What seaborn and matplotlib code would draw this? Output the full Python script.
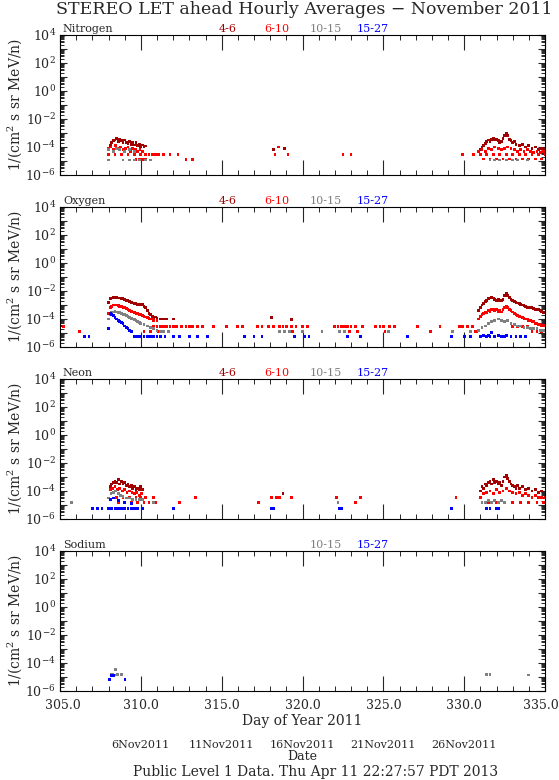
import numpy as np
import pandas as pd
import matplotlib
matplotlib.use("Agg")
import matplotlib.pyplot as plt
import matplotlib.ticker as mticker
import matplotlib.transforms as mtransforms
import seaborn as sns

# -------------------------
# Data
# -------------------------
CHANNELS = ["4-6", "6-10", "10-15", "15-27"]
COLORS = ["#a00000", "#ff0000", "#808080", "#0000ff"]
ELEMENTS = ["Nitrogen", "Oxygen", "Neon", "Sodium"]
PANEL_LABELS = {
    "Nitrogen": ["4-6", "6-10", "10-15", "15-27"],
    "Oxygen": ["4-6", "6-10", "10-15", "15-27"],
    "Neon": ["4-6", "6-10", "10-15", "15-27"],
    "Sodium": ["10-15", "15-27"],
}
DAY_TICKS = [305, 310, 315, 320, 325, 330, 335]
DATE_TICKS = [310, 315, 320, 325, 330]
DATE_LABELS = ["6Nov2011", "11Nov2011", "16Nov2011", "21Nov2011", "26Nov2011"]

# Nitrogen
N46_DAY = [308.1, 308.2, 308.3, 308.4, 308.5, 308.6, 308.7, 308.8, 308.9, 309.0,
           309.1, 309.2, 309.3, 309.4, 309.5, 309.6, 309.7, 309.8, 309.9, 310.0,
           310.1, 310.2, 310.3, 318.2, 318.9,
           331.0, 331.1, 331.2, 331.3, 331.4, 331.5, 331.6, 331.7, 331.8, 331.9,
           332.0, 332.1, 332.2, 332.3, 332.4, 332.5, 332.6, 332.7, 332.8, 332.9,
           333.0, 333.1, 333.2, 333.4, 333.6, 333.8, 334.0, 334.2, 334.4, 334.6,
           334.8, 335.0]
N46_VAL = [1.3e-4, 2.0e-4, 2.8e-4, 3.2e-4, 4.0e-4, 2.5e-4, 3.5e-4, 2.8e-4, 2.0e-4, 3.2e-4,
           2.2e-4, 1.8e-4, 2.5e-4, 1.6e-4, 2.2e-4, 1.4e-4, 2.0e-4, 1.3e-4, 1.6e-4, 1.1e-4,
           1.4e-4, 1.0e-4, 1.2e-4, 6.3e-5, 8.0e-5,
           6.3e-5, 1.0e-4, 1.3e-4, 1.8e-4, 2.5e-4, 3.2e-4, 2.5e-4, 3.5e-4, 4.0e-4, 3.2e-4,
           3.5e-4, 2.8e-4, 2.2e-4, 2.5e-4, 4.0e-4, 6.3e-4, 1.0e-3, 6.3e-4, 3.5e-4, 2.8e-4,
           2.0e-4, 2.5e-4, 1.6e-4, 1.3e-4, 1.6e-4, 1.0e-4, 1.3e-4, 8.0e-5, 1.0e-4, 6.3e-5,
           8.0e-5, 6.3e-5]
N610_DAY = [308.0, 308.15, 308.3, 308.45, 308.6, 308.75, 308.9, 309.05, 309.2, 309.35,
            309.5, 309.65, 309.8, 309.95, 310.1,
            308.0, 308.4, 308.8, 309.2, 309.6, 310.0, 310.3, 310.5, 310.7, 310.9,
            311.1, 311.4, 311.8, 312.3, 309.7, 309.9, 310.1, 310.3, 312.8, 313.2,
            318.3, 318.5, 319.1, 322.5, 323.0, 329.9, 330.6,
            330.9, 331.1, 331.3, 331.5, 331.7, 331.9, 332.1, 332.3, 332.5, 332.7,
            332.9, 333.1, 333.3, 333.5, 333.7, 333.9, 334.1, 334.3, 334.5, 334.7, 334.9,
            331.0, 331.4, 331.8, 332.2, 332.6, 333.0, 333.4, 333.8, 334.2, 334.6, 335.0,
            331.2, 331.6, 332.0, 332.4, 332.8, 333.2, 333.6, 334.0, 334.4, 334.8]
N610_VAL = [8.0e-5, 1.0e-4, 6.3e-5, 1.3e-4, 8.0e-5, 1.0e-4, 6.3e-5, 8.0e-5, 1.0e-4, 5.0e-5,
            8.0e-5, 6.3e-5, 5.0e-5, 6.3e-5, 5.0e-5,
            3.0e-5, 3.0e-5, 3.0e-5, 3.0e-5, 3.0e-5, 3.0e-5, 3.0e-5, 3.0e-5, 3.0e-5, 3.0e-5,
            3.0e-5, 3.0e-5, 3.0e-5, 3.0e-5, 1.3e-5, 1.3e-5, 1.3e-5, 1.3e-5, 1.3e-5, 1.3e-5,
            3.0e-5, 1.0e-4, 3.0e-5, 3.0e-5, 3.0e-5, 3.0e-5, 3.0e-5,
            5.0e-5, 6.3e-5, 5.0e-5, 8.0e-5, 6.3e-5, 1.0e-4, 8.0e-5, 6.3e-5, 8.0e-5, 1.0e-4,
            8.0e-5, 6.3e-5, 5.0e-5, 6.3e-5, 5.0e-5, 6.3e-5, 5.0e-5, 4.0e-5, 5.0e-5, 4.0e-5, 5.0e-5,
            3.0e-5, 3.0e-5, 3.0e-5, 3.0e-5, 3.0e-5, 3.0e-5, 3.0e-5, 3.0e-5, 3.0e-5, 3.0e-5, 3.0e-5,
            1.4e-5, 1.4e-5, 1.4e-5, 1.4e-5, 1.4e-5, 1.4e-5, 1.4e-5, 1.4e-5, 1.4e-5, 1.4e-5]
N1015_DAY = [308.0, 308.3, 308.5, 308.7, 309.0, 309.3, 309.6, 308.0, 308.9, 309.3,
             309.6, 309.9, 310.3, 310.6, 331.6, 331.9, 332.2, 332.6, 333.0, 333.3, 333.9]
N1015_VAL = [6.3e-5, 5.0e-5, 8.0e-5, 6.3e-5, 5.0e-5, 6.3e-5, 5.0e-5, 1.2e-5, 1.2e-5, 1.2e-5,
             1.2e-5, 1.2e-5, 1.2e-5, 1.2e-5, 1.2e-5, 1.2e-5, 1.2e-5, 1.2e-5, 1.2e-5, 1.2e-5, 1.2e-5]
N1527_DAY = []
N1527_VAL = []

# Oxygen
O46_DAY = [308.0, 308.1, 308.2, 308.3, 308.4, 308.5, 308.6, 308.7, 308.8, 308.9,
           309.0, 309.1, 309.2, 309.3, 309.4, 309.5, 309.6, 309.7, 309.8, 309.9,
           310.0, 310.1, 310.2, 310.3, 310.4, 310.5, 310.6, 310.7, 310.8, 310.9,
           311.0, 311.2, 311.4, 311.6, 312.0, 318.1, 319.3,
           330.9, 331.0, 331.1, 331.2, 331.3, 331.4, 331.5, 331.6, 331.7, 331.8,
           331.9, 332.0, 332.1, 332.2, 332.3, 332.4, 332.5, 332.6, 332.7, 332.8,
           332.9, 333.0, 333.1, 333.2, 333.3, 333.4, 333.5, 333.6, 333.7, 333.8,
           333.9, 334.0, 334.1, 334.2, 334.3, 334.4, 334.5, 334.6, 334.7, 334.8, 334.9]
O46_VAL = [1.6e-3, 2.8e-3, 3.2e-3, 3.5e-3, 3.5e-3, 3.5e-3, 3.2e-3, 3.2e-3, 2.8e-3, 2.8e-3,
           2.5e-3, 2.2e-3, 2.0e-3, 1.8e-3, 1.6e-3, 1.4e-3, 1.3e-3, 1.3e-3, 1.1e-3, 1.2e-3,
           1.0e-3, 1.1e-3, 8.0e-4, 7.0e-4, 4.0e-4, 2.5e-4, 2.0e-4, 1.6e-4, 1.3e-4, 1.4e-4,
           1.1e-4, 1.0e-4, 1.0e-4, 1.0e-4, 1.0e-4, 1.3e-4, 9.0e-5,
           4.0e-4, 6.3e-4, 1.0e-3, 1.3e-3, 1.8e-3, 2.2e-3, 2.8e-3, 3.2e-3, 3.5e-3, 3.2e-3,
           2.5e-3, 2.2e-3, 2.5e-3, 2.2e-3, 2.0e-3, 2.5e-3, 5.0e-3, 6.3e-3, 4.5e-3, 3.5e-3,
           2.5e-3, 2.0e-3, 1.8e-3, 1.6e-3, 1.4e-3, 1.3e-3, 1.1e-3, 1.0e-3, 9.0e-4, 8.0e-4,
           7.0e-4, 7.0e-4, 6.3e-4, 6.3e-4, 5.5e-4, 5.0e-4, 5.0e-4, 4.5e-4, 4.0e-4, 3.5e-4, 3.0e-4]
O610_DAY = [308.0, 308.1, 308.2, 308.3, 308.4, 308.5, 308.6, 308.7, 308.8, 308.9,
            309.0, 309.1, 309.2, 309.3, 309.4, 309.5, 309.6, 309.7, 309.8, 309.9,
            310.0, 310.1, 310.2, 310.3, 310.4, 310.5, 310.6, 310.7, 310.8, 311.0,
            305.2, 310.8, 311.0, 311.2, 311.4, 311.6, 311.8, 312.0, 312.2, 312.5,
            312.8, 313.0, 313.2, 313.5, 313.8, 314.5, 315.3, 316.0, 316.3, 317.2,
            317.5, 317.9, 318.2, 318.6, 318.8, 319.0, 319.3, 319.6, 320.0, 320.3,
            322.0, 322.2, 322.4, 322.6, 322.8, 323.0, 323.3, 323.7, 324.5, 324.8,
            325.0, 325.4, 325.7, 327.1, 328.5, 329.7, 329.9, 330.2, 330.5,
            306.2, 310.2, 310.6, 311.1, 319.2, 319.4, 322.3, 322.9, 323.4, 325.1,
            327.9, 329.3, 330.7, 330.8,
            330.9, 331.0, 331.1, 331.2, 331.3, 331.4, 331.5, 331.6, 331.7, 331.8,
            331.9, 332.0, 332.1, 332.2, 332.3, 332.4, 332.5, 332.6, 332.7, 332.8,
            332.9, 333.0, 333.1, 333.2, 333.3, 333.4, 333.5, 333.6, 333.7, 333.8,
            333.9, 334.0, 334.1, 334.2, 334.3, 334.4, 334.5, 334.6, 334.7, 334.8, 334.9,
            333.0, 333.3, 333.6, 333.9, 334.2, 334.5, 334.8]
O610_VAL = [2.5e-4, 6.3e-4, 8.0e-4, 1.0e-3, 1.0e-3, 1.0e-3, 9.0e-4, 8.0e-4, 8.0e-4, 7.0e-4,
            6.3e-4, 5.5e-4, 5.0e-4, 4.0e-4, 3.5e-4, 3.2e-4, 2.8e-4, 2.5e-4, 2.5e-4, 2.2e-4,
            2.0e-4, 1.8e-4, 1.6e-4, 1.4e-4, 1.3e-4, 1.1e-4, 1.0e-4, 1.0e-4, 8.0e-5, 8.0e-5,
            2.8e-5, 2.8e-5, 2.8e-5, 2.8e-5, 2.8e-5, 2.8e-5, 2.8e-5, 2.8e-5, 2.8e-5, 2.8e-5,
            2.8e-5, 2.8e-5, 2.8e-5, 2.8e-5, 2.8e-5, 2.8e-5, 2.8e-5, 2.8e-5, 2.8e-5, 2.8e-5,
            2.8e-5, 2.8e-5, 2.8e-5, 2.8e-5, 2.8e-5, 2.8e-5, 2.8e-5, 2.8e-5, 2.8e-5, 2.8e-5,
            2.8e-5, 2.8e-5, 2.8e-5, 2.8e-5, 2.8e-5, 2.8e-5, 2.8e-5, 2.8e-5, 2.8e-5, 2.8e-5,
            2.8e-5, 2.8e-5, 2.8e-5, 2.8e-5, 2.8e-5, 2.8e-5, 2.8e-5, 2.8e-5, 2.8e-5,
            1.3e-5, 1.3e-5, 1.3e-5, 1.3e-5, 1.3e-5, 1.3e-5, 1.3e-5, 1.3e-5, 1.3e-5, 1.3e-5,
            1.3e-5, 1.3e-5, 1.3e-5, 1.3e-5,
            1.0e-4, 1.6e-4, 2.0e-4, 2.5e-4, 3.2e-4, 2.8e-4, 4.0e-4, 3.5e-4, 4.5e-4, 5.0e-4,
            4.0e-4, 4.5e-4, 3.5e-4, 4.0e-4, 3.2e-4, 5.0e-4, 6.3e-4, 8.0e-4, 6.3e-4, 5.0e-4,
            4.0e-4, 3.2e-4, 2.5e-4, 2.2e-4, 1.8e-4, 1.6e-4, 1.4e-4, 1.3e-4, 1.1e-4, 1.0e-4,
            1.0e-4, 8.0e-5, 8.0e-5, 6.3e-5, 6.3e-5, 5.0e-5, 5.0e-5, 4.0e-5, 4.0e-5, 3.5e-5, 3.5e-5,
            2.8e-5, 2.8e-5, 2.8e-5, 2.8e-5, 1.3e-5, 1.3e-5, 1.3e-5]
O1015_DAY = [308.0, 308.1, 308.2, 308.3, 308.4, 308.5, 308.6, 308.7, 308.8, 308.9,
             309.0, 309.1, 309.2, 309.3, 309.4, 309.5, 309.6, 309.7, 309.8, 309.9,
             310.0, 310.2, 310.4, 310.6, 310.8, 311.0, 311.2, 311.4, 311.7,
             318.6, 318.9, 319.2, 320.0, 321.2, 322.3, 322.6, 325.3, 329.3, 330.4,
             330.9, 331.1, 331.3, 331.5, 331.7, 331.9, 332.1, 332.3, 332.5, 332.7,
             332.9, 333.1, 333.3, 333.5, 333.7, 333.9, 334.1, 334.3, 334.5, 334.7, 334.9]
O1015_VAL = [1.0e-4, 2.0e-4, 2.8e-4, 3.2e-4, 3.5e-4, 3.2e-4, 2.8e-4, 2.8e-4, 2.5e-4, 2.2e-4,
             2.0e-4, 1.8e-4, 1.6e-4, 1.3e-4, 1.1e-4, 1.0e-4, 9.0e-5, 8.0e-5, 6.3e-5, 5.5e-5,
             5.0e-5, 4.0e-5, 3.2e-5, 2.5e-5, 2.0e-5, 1.6e-5, 1.3e-5, 1.3e-5, 1.3e-5,
             1.3e-5, 1.3e-5, 1.3e-5, 1.3e-5, 1.3e-5, 1.3e-5, 1.3e-5, 1.3e-5, 1.3e-5, 1.3e-5,
             1.6e-5, 2.5e-5, 3.2e-5, 5.0e-5, 6.3e-5, 8.0e-5, 1.0e-4, 8.0e-5, 6.3e-5, 8.0e-5,
             5.0e-5, 4.0e-5, 3.2e-5, 3.2e-5, 2.5e-5, 2.5e-5, 2.0e-5, 2.0e-5, 2.0e-5, 1.6e-5, 1.6e-5]
O1527_DAY = [306.5, 306.8, 308.0, 308.1, 308.2, 308.3, 308.4, 308.5, 308.6, 308.7,
             308.8, 308.9, 309.0, 309.1, 309.2, 309.3, 309.4,
             309.6, 309.8, 310.0, 310.2, 310.4, 310.6, 310.8, 311.0, 311.2, 311.5,
             312.0, 312.4, 313.0, 313.5, 314.1, 316.4, 317.0, 317.5, 319.5, 320.1,
             320.4, 322.8, 323.6, 326.5, 329.2, 330.0, 330.4,
             331.0, 331.2, 331.4, 331.5, 331.6, 331.7, 331.9, 332.1, 332.3, 332.5,
             332.6, 332.9, 333.2, 333.5, 333.8]
O1527_VAL = [5.5e-6, 5.5e-6, 2.0e-5, 2.5e-4, 2.2e-4, 1.8e-4, 1.3e-4, 1.0e-4, 8.0e-5, 6.3e-5,
             5.5e-5, 5.0e-5, 3.2e-5, 2.5e-5, 2.0e-5, 1.6e-5, 1.3e-5,
             5.5e-6, 5.5e-6, 5.5e-6, 5.5e-6, 5.5e-6, 5.5e-6, 5.5e-6, 5.5e-6, 5.5e-6, 5.5e-6,
             5.5e-6, 5.5e-6, 5.5e-6, 5.5e-6, 5.5e-6, 5.5e-6, 5.5e-6, 5.5e-6, 5.5e-6, 5.5e-6,
             5.5e-6, 5.5e-6, 5.5e-6, 5.5e-6, 5.5e-6, 5.5e-6, 5.5e-6,
             5.5e-6, 7.0e-6, 5.5e-6, 7.0e-6, 5.5e-6, 1.1e-5, 5.5e-6, 7.0e-6, 5.5e-6, 5.5e-6,
             7.0e-6, 5.5e-6, 5.5e-6, 5.5e-6, 5.5e-6]

# Neon
NE46_DAY = [308.1, 308.2, 308.3, 308.4, 308.5, 308.6, 308.7, 308.8, 308.9, 309.0,
            309.1, 309.2, 309.3, 309.4, 309.5, 309.6, 309.7, 309.8, 309.9, 310.0,
            310.1, 318.8,
            331.0, 331.1, 331.2, 331.3, 331.4, 331.5, 331.6, 331.7, 331.8, 331.9,
            332.0, 332.1, 332.2, 332.3, 332.4, 332.5, 332.6, 332.7, 332.8, 332.9,
            333.0, 333.1, 333.2, 333.3, 333.4, 333.6, 333.8, 334.0, 334.2, 334.4,
            334.6, 334.8]
NE46_VAL = [2.0e-4, 3.2e-4, 4.0e-4, 5.0e-4, 4.0e-4, 6.3e-4, 3.2e-4, 5.0e-4, 3.2e-4, 4.0e-4,
            2.5e-4, 3.2e-4, 2.0e-4, 2.5e-4, 1.6e-4, 2.0e-4, 1.3e-4, 1.6e-4, 1.3e-4, 2.0e-4,
            1.3e-4, 6.3e-5,
            1.0e-4, 2.0e-4, 1.6e-4, 3.2e-4, 2.5e-4, 4.0e-4, 5.0e-4, 3.2e-4, 6.3e-4, 4.0e-4,
            5.0e-4, 3.2e-4, 4.0e-4, 2.5e-4, 5.0e-4, 1.0e-3, 1.3e-3, 8.0e-4, 5.0e-4, 3.2e-4,
            2.5e-4, 2.0e-4, 1.6e-4, 2.5e-4, 1.6e-4, 2.0e-4, 1.3e-4, 1.6e-4, 1.0e-4, 1.3e-4,
            8.0e-5, 1.0e-4]
NE610_DAY = [308.1, 308.25, 308.4, 308.55, 308.7, 308.85, 309.0, 309.15, 309.3, 309.45,
             309.6, 309.75, 309.9, 310.05,
             308.5, 308.9, 309.3, 309.7, 310.0, 310.3, 310.8, 313.4, 318.1, 318.4,
             318.6, 319.3, 322.1, 323.6, 329.5,
             308.6, 309.0, 309.4, 309.8, 310.2, 310.5, 310.9, 312.4, 317.3, 323.3,
             331.0, 331.2, 331.4, 331.6, 331.8, 332.0, 332.2, 332.4, 332.6, 332.8,
             333.0, 333.2, 333.4, 333.6, 333.8, 334.0, 334.2, 334.4, 334.6, 334.8, 335.0,
             331.5, 332.0, 332.5, 333.0, 333.5, 334.0, 334.5, 334.9]
NE610_VAL = [1.3e-4, 1.6e-4, 2.0e-4, 1.3e-4, 1.6e-4, 1.0e-4, 1.3e-4, 8.0e-5, 1.0e-4, 8.0e-5,
             6.3e-5, 8.0e-5, 5.0e-5, 6.3e-5,
             3.3e-5, 3.3e-5, 3.3e-5, 3.3e-5, 3.3e-5, 3.3e-5, 3.3e-5, 3.3e-5, 3.3e-5, 3.3e-5,
             3.3e-5, 3.3e-5, 3.3e-5, 3.3e-5, 3.3e-5,
             1.6e-5, 1.6e-5, 1.6e-5, 1.6e-5, 1.6e-5, 1.6e-5, 1.6e-5, 1.6e-5, 1.6e-5, 1.6e-5,
             3.3e-5, 6.3e-5, 8.0e-5, 1.0e-4, 6.3e-5, 1.3e-4, 8.0e-5, 1.0e-4, 1.6e-4, 1.0e-4,
             8.0e-5, 6.3e-5, 8.0e-5, 5.0e-5, 6.3e-5, 5.0e-5, 3.3e-5, 5.0e-5, 3.3e-5, 3.3e-5, 3.3e-5,
             1.6e-5, 1.6e-5, 1.6e-5, 1.6e-5, 1.6e-5, 1.6e-5, 1.6e-5, 1.6e-5]
NE1015_DAY = [305.7, 308.0, 308.15, 308.3, 308.45, 308.6, 308.75, 308.9, 309.1, 309.3,
              309.5, 309.7, 309.9, 310.1, 310.8, 322.2,
              331.1, 331.3, 331.5, 331.7, 331.9, 332.1, 332.3, 332.5]
NE1015_VAL = [1.6e-5, 3.2e-5, 6.3e-5, 8.0e-5, 1.0e-4, 6.3e-5, 5.0e-5, 4.0e-5, 3.2e-5, 3.2e-5,
              2.5e-5, 2.5e-5, 2.5e-5, 2.5e-5, 1.6e-5, 1.6e-5,
              1.6e-5, 1.6e-5, 2.0e-5, 1.6e-5, 2.0e-5, 1.6e-5, 2.0e-5, 1.6e-5]
NE1527_DAY = [307.0, 307.3, 307.6, 308.0, 308.2, 308.4, 308.5, 308.6, 308.8, 309.0,
              309.2, 309.4, 309.6, 309.8, 310.1, 308.1, 308.3, 308.6, 309.0, 309.4,
              312.0, 318.1, 318.2, 322.3, 322.4, 329.2, 331.4, 331.6, 332.0, 332.1]
NE1527_VAL = [5.8e-6, 5.8e-6, 5.8e-6, 5.8e-6, 5.8e-6, 5.8e-6, 5.8e-6, 5.8e-6, 5.8e-6, 5.8e-6,
              5.8e-6, 5.8e-6, 5.8e-6, 5.8e-6, 5.8e-6, 2.5e-5, 3.2e-5, 2.0e-5, 1.6e-5, 1.3e-5,
              5.8e-6, 5.8e-6, 5.8e-6, 5.8e-6, 5.8e-6, 5.8e-6, 5.8e-6, 5.8e-6, 5.8e-6, 5.8e-6]

# Sodium
NA46_DAY = []
NA46_VAL = []
NA610_DAY = []
NA610_VAL = []
NA1015_DAY = [308.15, 308.25, 308.35, 308.44, 308.55, 308.8, 331.4, 331.6, 334.0]
NA1015_VAL = [1.6e-5, 1.6e-5, 1.4e-5, 3.5e-5, 1.6e-5, 1.6e-5, 1.6e-5, 1.6e-5, 1.4e-5]
NA1527_DAY = [308.05, 308.2, 308.3, 309.02]
NA1527_VAL = [6.5e-6, 1.3e-5, 1.3e-5, 6.5e-6]

SERIES = {
    "Nitrogen": [(N46_DAY, N46_VAL), (N610_DAY, N610_VAL), (N1015_DAY, N1015_VAL), (N1527_DAY, N1527_VAL)],
    "Oxygen": [(O46_DAY, O46_VAL), (O610_DAY, O610_VAL), (O1015_DAY, O1015_VAL), (O1527_DAY, O1527_VAL)],
    "Neon": [(NE46_DAY, NE46_VAL), (NE610_DAY, NE610_VAL), (NE1015_DAY, NE1015_VAL), (NE1527_DAY, NE1527_VAL)],
    "Sodium": [(NA46_DAY, NA46_VAL), (NA610_DAY, NA610_VAL), (NA1015_DAY, NA1015_VAL), (NA1527_DAY, NA1527_VAL)],
}


def build_frame():
    rows = []
    for element in ELEMENTS:
        for channel, (days, vals) in zip(CHANNELS, SERIES[element]):
            for d, v in zip(days, vals):
                rows.append({"element": element, "channel": channel, "day": d, "flux": v})
    return pd.DataFrame(rows)


def decade_label(v, pos):
    e = int(round(np.log10(v)))
    return f"$10^{{{e}}}$" if e % 2 == 0 else ""


def style_axis(ax, show_xlabels):
    ax.set_yscale("log")
    ax.set_xlim(305, 335)
    ax.set_ylim(1e-6, 1e4)
    ax.yaxis.set_major_locator(mticker.LogLocator(base=10, numticks=20))
    ax.yaxis.set_minor_locator(mticker.LogLocator(base=10, subs=np.arange(2, 10), numticks=20))
    ax.yaxis.set_major_formatter(mticker.FuncFormatter(decade_label))
    ax.yaxis.set_minor_formatter(mticker.NullFormatter())
    ax.xaxis.set_major_locator(mticker.FixedLocator(DAY_TICKS))
    ax.xaxis.set_minor_locator(mticker.MultipleLocator(1))
    ax.xaxis.set_major_formatter(mticker.FormatStrFormatter("%.1f"))
    ax.tick_params(axis="x", which="major", direction="in", length=11, width=0.8,
                   top=True, bottom=True, labelsize=9, pad=6, labelbottom=show_xlabels)
    ax.tick_params(axis="x", which="minor", direction="in", length=3.5, width=0.7,
                   top=True, bottom=True)
    ax.tick_params(axis="y", which="major", direction="in", length=5, width=0.8,
                   left=True, right=True, labelsize=9, pad=3)
    ax.tick_params(axis="y", which="minor", direction="in", length=3, width=0.7,
                   left=True, right=True)
    for sp in ax.spines.values():
        sp.set_linewidth(0.8)
        sp.set_color("black")
    ax.set_ylabel("1/(cm$^2$ s sr MeV/n)", fontsize=10, labelpad=1)
    ax.set_xlabel("")


def main():
    sns.set_style("ticks")
    plt.rcParams["font.family"] = ["DejaVu Serif"]
    plt.rcParams["mathtext.fontset"] = "dejavuserif"

    df = build_frame()
    palette = dict(zip(CHANNELS, COLORS))
    label_x = dict(zip(CHANNELS, [0.346, 0.447, 0.547, 0.645]))

    fig = plt.figure(figsize=(5.59, 7.80), dpi=100)
    W, H = 559.0, 780.0
    left, width, height = 60 / W, 485 / W, 140 / H
    tops = [35, 207, 379, 551]

    for i, element in enumerate(ELEMENTS):
        bottom = 1 - (tops[i] + 140) / H
        ax = fig.add_axes([left, bottom, width, height])
        sub = df[df["element"] == element]
        sns.scatterplot(data=sub, x="day", y="flux", hue="channel", hue_order=CHANNELS,
                        palette=palette, marker="s", s=4, linewidth=0, legend=False, ax=ax)
        last = i == len(ELEMENTS) - 1
        style_axis(ax, show_xlabels=last)
        ax.text(0.006, 1.008, element, transform=ax.transAxes, fontsize=8,
                ha="left", va="bottom")
        for ch in PANEL_LABELS[element]:
            ax.text(label_x[ch], 1.008, ch, transform=ax.transAxes, fontsize=8,
                    ha="center", va="bottom", color=palette[ch])
        if last:
            ax.set_xlabel("Day of Year 2011", fontsize=10, labelpad=1)
            # keep the end labels inside the frame like the original
            labels = ax.get_xticklabels()
            first = mtransforms.ScaledTranslation(3 / 100, 0, fig.dpi_scale_trans)
            end = mtransforms.ScaledTranslation(-4 / 100, 0, fig.dpi_scale_trans)
            labels[0].set_transform(labels[0].get_transform() + first)
            labels[-1].set_transform(labels[-1].get_transform() + end)
            sec = ax.secondary_xaxis(-0.34)
            sec.set_xticks(DATE_TICKS)
            sec.set_xticklabels(DATE_LABELS)
            sec.tick_params(length=0, labelsize=8, pad=1)
            sec.spines["bottom"].set_visible(False)
            sec.set_xlabel("Date", fontsize=9, labelpad=0)

    fig.text(304 / W, 1 - 10 / H, "STEREO LET ahead Hourly Averages \u2212 November 2011",
             ha="center", va="center", fontsize=12.5)
    fig.text(316 / W, 1 - 772 / H, "Public Level 1 Data. Thu Apr 11 22:27:57 PDT 2013",
             ha="center", va="center", fontsize=10)

    fig.savefig("out.png", dpi=100)
    plt.close(fig)


if __name__ == "__main__":
    main()
